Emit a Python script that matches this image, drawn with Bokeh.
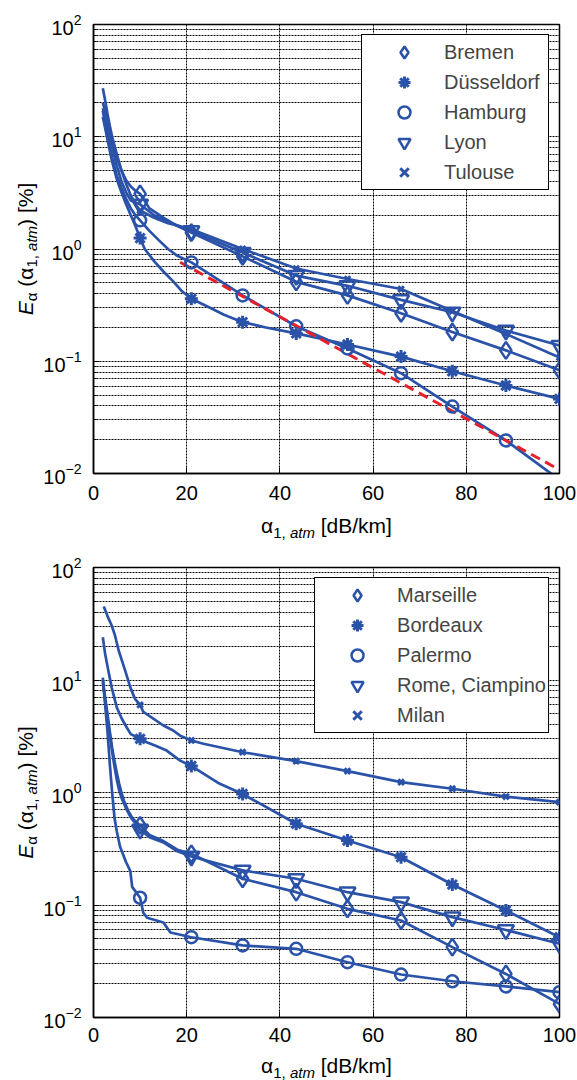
import math
from bokeh.plotting import figure
from bokeh.models import Label, Legend, LegendItem, Range1d, FixedTicker
from bokeh.layouts import column, row
from bokeh.embed import file_html
from bokeh.resources import INLINE

BLUE = "#2a52a8"
RED = "#e8202a"
FONT = "Liberation Sans"

MARK_X = [10, 21, 32, 43.5, 54.5, 66, 77, 88.5, 100]
X_TICKS = [0, 20, 40, 60, 80, 100]
Y_TICKS = [0.01, 0.1, 1, 10, 100]

# ---------- top panel ----------
TOP_NAMES = ["Bremen", "Düsseldorf", "Hamburg", "Lyon", "Tulouse"]
bremen_x = [2, 2.5, 3, 3.5, 4, 5, 6, 7, 8, 9, 10, 12, 15, 18, 21, 32, 43.5, 54.5, 66, 77, 88.5, 100]
bremen_y = [20, 17, 14, 11, 9, 6.5, 5, 4.1, 3.6, 3.3, 3.1, 2.3, 1.9, 1.6, 1.4, 0.86, 0.51, 0.386, 0.268, 0.182, 0.125, 0.083]
dus_x = [2, 2.5, 3, 3.5, 4, 5, 6, 7, 8, 9, 10, 11, 13, 15, 17, 19, 21, 25, 28, 32, 37, 43.5, 54.5, 66, 77, 88.5, 100]
dus_y = [15, 12, 9.5, 7.5, 6, 4.2, 3.2, 2.5, 2.0, 1.6, 1.25, 1.0, 0.78, 0.63, 0.52, 0.42, 0.36, 0.3, 0.26, 0.223, 0.2, 0.177, 0.141, 0.110, 0.0815, 0.0608, 0.0462]
ham_x = [2, 2.5, 3, 3.5, 4, 5, 6, 7, 8, 9, 10, 12, 14, 16, 18, 21, 32, 43.5, 54.5, 66, 77, 88.5, 100]
ham_y = [17, 13, 10, 8, 6.5, 4.5, 3.5, 2.8, 2.3, 2.0, 1.8, 1.45, 1.2, 1.0, 0.87, 0.76, 0.386, 0.205, 0.130, 0.0783, 0.0395, 0.0197, 0.0088]
lyon_x = [2, 2.5, 3, 3.5, 4, 5, 6, 7, 8, 10, 13, 16, 21, 32, 43.5, 54.5, 66, 77, 88.5, 100]
lyon_y = [18, 15, 12, 9.5, 8, 5.5, 4, 3.2, 2.7, 2.5, 2.0, 1.75, 1.45, 0.93, 0.58, 0.47, 0.352, 0.273, 0.188, 0.138]
tul_x = [2, 2.5, 3, 3.5, 4, 5, 6, 7, 8, 9, 10, 13, 16, 21, 32, 43.5, 54.5, 66, 77, 88.5, 100]
tul_y = [27, 21, 16, 12.5, 10, 7, 5, 3.8, 3.0, 2.5, 2.2, 1.9, 1.7, 1.5, 1.0, 0.67, 0.54, 0.44, 0.28, 0.175, 0.108]
fit_x = [18.6, 100]
fit_y = [0.762, 0.0108]

# ---------- bottom panel ----------
BOT_NAMES = ["Marseille", "Bordeaux", "Palermo", "Rome, Ciampino", "Milan"]
mars_x = [2, 2.5, 3, 3.5, 4, 4.5, 5, 5.5, 6, 6.5, 7.5, 8.5, 10, 12, 15, 18, 21, 32, 43.5, 54.5, 66, 77, 88.5, 100]
mars_y = [10, 7, 5, 3.5, 2.5, 1.9, 1.5, 1.2, 1.0, 0.85, 0.68, 0.58, 0.51, 0.42, 0.37, 0.31, 0.285, 0.171, 0.13, 0.0925, 0.0728, 0.0422, 0.0244, 0.0132]
bord_x = [2, 2.5, 3.2, 3.9, 5, 6.1, 7.1, 8, 10, 11.4, 13.2, 15.7, 18.6, 21, 23.6, 27, 32, 43.5, 54.5, 66, 77, 88.5, 100]
bord_y = [24, 17, 12, 8.6, 5.7, 4.5, 3.8, 3.3, 3.0, 2.8, 2.62, 2.36, 1.92, 1.72, 1.47, 1.2, 0.97, 0.527, 0.374, 0.266, 0.152, 0.0893, 0.0517]
pal_x = [2, 2.5, 3, 3.5, 4, 4.5, 5, 5.7, 7, 7.9, 8.3, 10, 10.7, 11.5, 15, 16.5, 21, 32, 43.5, 54.5, 66, 77, 88.5, 100]
pal_y = [10.5, 6, 3.5, 1.8, 1.0, 0.6, 0.45, 0.33, 0.24, 0.2, 0.145, 0.116, 0.085, 0.077, 0.07, 0.057, 0.0517, 0.0437, 0.0408, 0.031, 0.0241, 0.021, 0.0189, 0.0168]
rome_x = [2, 2.5, 3, 3.5, 4, 4.5, 5, 5.5, 6, 7, 8, 10, 12, 15, 18, 21, 32, 43.5, 54.5, 66, 77, 88.5, 100]
rome_y = [9.5, 6.5, 4.5, 3.2, 2.3, 1.7, 1.3, 1.05, 0.9, 0.72, 0.6, 0.47, 0.4, 0.36, 0.3, 0.27, 0.203, 0.171, 0.13, 0.106, 0.078, 0.06, 0.0452]
milan_x = [2.2, 2.5, 3, 3.9, 4.6, 5.4, 6.8, 7.9, 8.9, 10, 10.7, 15, 17.1, 18.6, 21, 23.6, 32, 43.5, 54.5, 66, 77, 88.5, 100]
milan_y = [45, 42, 37, 30.5, 25, 18.3, 12.1, 8.6, 6.8, 6.0, 5.2, 3.94, 3.56, 3.2, 2.9, 2.71, 2.28, 1.9, 1.55, 1.235, 1.08, 0.92, 0.82]

MARKERS = [
    dict(marker="diamond", size=17, line_width=2.5),
    dict(marker="asterisk", size=13, line_width=3),
    dict(marker="circle", size=12, line_width=2.5),
    dict(marker="inverted_triangle", size=16, line_width=2.5),
    dict(marker="x", size=8, line_width=3),
]

# Arial-like advance widths (em)
W = {"E": .667, "α": .58, "(": .333, ")": .333, "1": .556, ",": .278, " ": .278,
     "a": .556, "t": .278, "m": .833, "[": .278, "]": .278, "%": .889, "d": .556,
     "B": .667, "/": .278, "k": .5}


def twidth(s, size):
    return sum(W.get(c, .55) for c in s) * size


# (text, font px, style, baseline shift px); leading spaces become advance
Y_SEGS = [("E", 21, "italic", 0), ("α", 15, "normal", 6), (" (α", 21, "normal", 0),
          ("1, ", 15, "normal", 6), ("atm", 15, "italic", 6), (")", 21, "normal", 0),
          (" [%]", 21, "normal", 0)]
X_SEGS = [("α", 21, "normal", 0), ("1, ", 15, "normal", 7), ("atm", 15, "italic", 7),
          (" [dB/km]", 21, "normal", 0)]

YLAB_W = 40          # strip holding the rotated y label
BL, BR, FW = 53, 18, 466
FIG_W = BL + FW + BR  # 537
ROW_H = 540


def label_fig(w, h):
    f = figure(width=w, height=h, x_range=Range1d(0, w), y_range=Range1d(h, 0),
               x_axis_type=None, y_axis_type=None, output_backend="svg",
               toolbar_location=None, min_border=0)
    f.outline_line_color = None
    f.background_fill_color = "white"
    f.border_fill_color = "white"
    return f


def add_text(f, cx, cy, s, z, st, angle=0.0):
    f.add_layout(Label(x=cx, y=cy, x_units="canvas", y_units="canvas", text=s, angle=angle,
                       text_font=FONT, text_font_size=f"{z}px", text_font_style=st,
                       text_baseline="alphabetic", text_align="left", text_color="black"))


def split_lead(s):
    core = s.lstrip(" ")
    return len(s) - len(core), core.rstrip(" ")


def make_panel(series, names, bt, fh, bb, standoff, xlab_off, fit=None):
    p = figure(frame_width=FW, frame_height=fh, x_range=Range1d(0, 100),
               y_range=Range1d(0.01, 100), y_axis_type="log",
               output_backend="svg", toolbar_location=None,
               min_border_left=BL, min_border_right=BR,
               min_border_top=bt, min_border_bottom=bb)
    p.outline_line_color = "black"
    p.outline_line_width = 1.5
    p.background_fill_color = "white"

    p.xaxis.ticker = FixedTicker(ticks=X_TICKS)
    minors = [k * 10 ** e for e in range(-2, 2) for k in range(2, 10)]
    p.yaxis.ticker = FixedTicker(ticks=Y_TICKS, minor_ticks=minors)
    for ax in (p.xaxis[0], p.yaxis[0]):
        ax.axis_line_color = "black"
        ax.axis_line_width = 1.5
        ax.major_tick_in = 6
        ax.major_tick_out = 0
        ax.minor_tick_in = 3
        ax.minor_tick_out = 0
        ax.major_label_text_font = FONT
        ax.major_label_text_font_size = "20px"
        ax.major_label_text_color = "black"
        ax.major_label_standoff = 12
    p.xaxis.major_label_standoff = standoff
    p.xaxis.minor_tick_line_color = None

    for g in (p.xgrid[0], p.ygrid[0]):
        g.grid_line_color = "black"
        g.grid_line_dash = "2 1"
        g.grid_line_width = 1
        g.grid_line_alpha = 1
    p.ygrid.minor_grid_line_color = "black"
    p.ygrid.minor_grid_line_dash = "2 1"
    p.ygrid.minor_grid_line_alpha = 1

    items = []
    for (xs, ys), name, mk in zip(series, names, MARKERS):
        p.line(xs, ys, line_color=BLUE, line_width=2.7)
    if fit is not None:
        p.line(fit[0], fit[1], line_color=RED, line_width=3, line_dash="10 6")
    for (xs, ys), name, mk in zip(series, names, MARKERS):
        mx = [x for x in xs if x in MARK_X]
        my = [y for x, y in zip(xs, ys) if x in MARK_X]
        r = p.scatter(mx, my, fill_color=None, line_color=BLUE, **mk)
        items.append(LegendItem(label=name, renderers=[r]))

    leg = Legend(items=items, location="top_right")
    leg.border_line_color = "black"
    leg.border_line_width = 1.5
    leg.border_line_alpha = 1
    leg.background_fill_color = "white"
    leg.background_fill_alpha = 1
    leg.label_text_font = FONT
    leg.label_text_font_size = "20px"
    leg.padding = 2
    leg.glyph_width = 80
    leg.glyph_height = 30
    leg.label_height = 30
    leg.label_width = 102
    leg.spacing = 0
    leg.label_standoff = 0
    leg.margin = 10
    p.add_layout(leg)

    fig_h = bt + fh + bb
    xl_h = ROW_H - fig_h
    # x label strip below the figure
    xl = label_fig(FIG_W, xl_h)
    total = sum(twidth(s, z) for s, z, _, _ in X_SEGS)
    run = BL + FW / 2 - total / 2
    base = bt + fh + xlab_off - fig_h
    for s, z, st, dy in X_SEGS:
        nlead, core = split_lead(s)
        run += nlead * W[" "] * z
        add_text(xl, run, base + dy, core, z, st)
        run += twidth(s, z) - nlead * W[" "] * z

    # y label strip left of the figure (rotated text, reading upwards)
    yl = label_fig(YLAB_W, ROW_H)
    total = sum(twidth(s, z) for s, z, _, _ in Y_SEGS)
    run = bt + fh / 2 + total / 2
    base_x = 25
    for s, z, st, dy in Y_SEGS:
        nlead, core = split_lead(s)
        run -= nlead * W[" "] * z
        add_text(yl, base_x + dy, run, core, z, st, angle=math.pi / 2)
        run -= twidth(s, z) - nlead * W[" "] * z

    return row(yl, column(p, xl, spacing=0), spacing=0)


top_series = [(bremen_x, bremen_y), (dus_x, dus_y), (ham_x, ham_y), (lyon_x, lyon_y), (tul_x, tul_y)]
bot_series = [(mars_x, mars_y), (bord_x, bord_y), (pal_x, pal_y), (rome_x, rome_y), (milan_x, milan_y)]

r1 = make_panel(top_series, TOP_NAMES, 24, 449, 38, 12, 52, fit=(fit_x, fit_y))
r2 = make_panel(bot_series, BOT_NAMES, 27, 450, 35, 10, 48)

layout = column(r1, r2, spacing=0)
open("out.html", "w").write(file_html(layout, INLINE))
